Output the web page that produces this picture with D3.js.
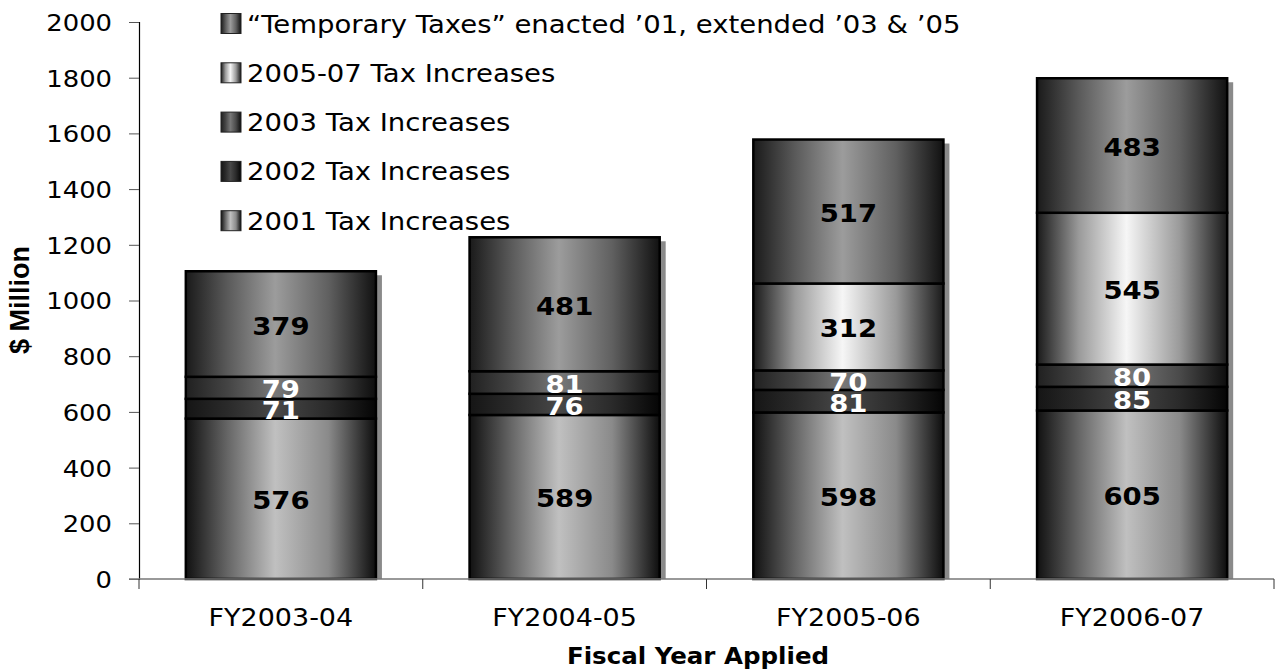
<!DOCTYPE html>
<html>
<head>
<meta charset="utf-8">
<script src="https://cdn.jsdelivr.net/npm/d3@7"></script>
<style>
  body { margin: 0; background: #fff; }
  svg { display: block; }
  text { font-family: "DejaVu Sans", Verdana, sans-serif; }
</style>
</head>
<body>
<div id="chart"></div>
<script>
const width = 1280;
const height = 671;

// data
const years = ['FY2003-04', 'FY2004-05', 'FY2005-06', 'FY2006-07'];
const series = ['2001 Tax Increases', '2002 Tax Increases', '2003 Tax Increases',
  '2005-07 Tax Increases', '\u201CTemporary Taxes\u201D enacted \u201901, extended \u201903 & \u201905'];
const tax2001 = [576, 589, 598, 605];
const tax2002 = [71, 76, 81, 85];
const tax2003 = [79, 81, 70, 80];
const tax2005 = [0, 0, 312, 545];
const temporary = [379, 481, 517, 483];
const yTicks = [0, 200, 400, 600, 800, 1000, 1200, 1400, 1600, 1800, 2000];

// shading of each series: [edge, mid, peak, mid, edge]
const shades = [
  ['#111', '#666', '#c0c0c0', '#8a8a8a', '#0d0d0d'],
  ['#151515', '#2a2a2a', '#484848', '#2a2a2a', '#050505'],
  ['#202020', '#444', '#787878', '#4a4a4a', '#0d0d0d'],
  ['#1a1a1a', '#9a9a9a', '#f6f6f6', '#9a9a9a', '#1a1a1a'],
  ['#1a1a1a', '#5a5a5a', '#9c9c9c', '#606060', '#111']
];
const labelColors = ['#000', '#fff', '#fff', '#000', '#000'];

// the picture's text is a little wider than the font, so stretch it
const sx = 1.1;
const place = (x, y) => `translate(${x},${y}) scale(${sx},1)`;

const rows = years.map((y, i) => ({
  year: y,
  s0: tax2001[i], s1: tax2002[i], s2: tax2003[i], s3: tax2005[i], s4: temporary[i]
}));
const keys = ['s0', 's1', 's2', 's3', 's4'];

const margin = { top: 22, right: 6, bottom: 92, left: 139 };

const svg = d3.select('#chart')
  .append('svg')
  .attr('width', width)
  .attr('height', height);

const defs = svg.append('defs');
shades.forEach((s, i) => {
  const g = defs.append('linearGradient')
    .attr('id', 'grad' + i)
    .attr('x1', '0').attr('x2', '1').attr('y1', '0').attr('y2', '0');
  [0, 0.22, 0.47, 0.75, 1].forEach((o, j) => {
    g.append('stop').attr('offset', o).attr('stop-color', s[j]);
  });
});

const xScale = d3.scaleBand()
  .domain(years)
  .range([margin.left, width - margin.right])
  .paddingInner(0.33)
  .paddingOuter(0.165);

const yScale = d3.scaleLinear()
  .domain([0, 2000])
  .range([height - margin.bottom, margin.top]);

const stacked = d3.stack().keys(keys)(rows);
const total = d => d3.sum(keys, k => d[k]);

// shadows behind bars
svg.append('g')
  .selectAll('rect')
  .data(rows)
  .join('rect')
  .attr('x', d => xScale(d.year) + 6)
  .attr('y', d => yScale(total(d)) + 4)
  .attr('width', xScale.bandwidth())
  .attr('height', d => yScale(0) - yScale(total(d)) - 4)
  .attr('fill', '#8a8a8a');

// stacked segments
const layers = svg.append('g')
  .selectAll('g')
  .data(stacked)
  .join('g');

const segs = d => d.filter(p => p[1] - p[0] > 0).map(p => ({ p, idx: d.index }));

layers.selectAll('rect')
  .data(segs)
  .join('rect')
  .attr('x', d => xScale(d.p.data.year))
  .attr('y', d => yScale(d.p[1]))
  .attr('width', xScale.bandwidth())
  .attr('height', d => yScale(d.p[0]) - yScale(d.p[1]))
  .attr('fill', d => `url(#grad${d.idx})`)
  .attr('stroke', '#000')
  .attr('stroke-width', 2.5);

// value labels
layers.selectAll('text')
  .data(segs)
  .join('text')
  .attr('transform', d => place(
    xScale(d.p.data.year) + xScale.bandwidth() / 2,
    (yScale(d.p[0]) + yScale(d.p[1])) / 2 + 1.5))
  .attr('dy', '0.36em')
  .attr('text-anchor', 'middle')
  .attr('font-size', 25)
  .attr('font-weight', 'bold')
  .attr('fill', d => labelColors[d.idx])
  .text(d => d.p[1] - d.p[0]);

// y axis
const yAxis = svg.append('g')
  .attr('transform', `translate(${margin.left},0)`)
  .call(d3.axisLeft(yScale).tickValues(yTicks).tickSize(10).tickFormat(d3.format('d')));
yAxis.select('.domain').attr('stroke', '#000').attr('stroke-width', 1.2);
yAxis.selectAll('.tick line').attr('stroke', '#555');
yAxis.selectAll('.tick text')
  .attr('x', 0)
  .attr('transform', place(-27, 0))
  .attr('dy', '0.36em')
  .attr('font-family', '"DejaVu Sans", Verdana, sans-serif')
  .attr('font-size', 23.5)
  .attr('fill', '#000');

// x axis: line plus ticks at band edges
const step = xScale.step();
const edges = years.map(y => xScale(y) - step * xScale.paddingInner() / 2)
  .concat([width - margin.right]);
const xAxis = svg.append('g');
xAxis.append('line')
  .attr('x1', margin.left - 10)
  .attr('x2', width - margin.right)
  .attr('y1', yScale(0)).attr('y2', yScale(0))
  .attr('stroke', '#777').attr('stroke-width', 1.5);
xAxis.selectAll('line.tk')
  .data(edges)
  .join('line')
  .attr('class', 'tk')
  .attr('x1', d => d).attr('x2', d => d)
  .attr('y1', yScale(0)).attr('y2', yScale(0) + 10)
  .attr('stroke', '#333');
xAxis.selectAll('text')
  .data(years)
  .join('text')
  .attr('transform', d => place(xScale(d) + xScale.bandwidth() / 2, 626))
  .attr('text-anchor', 'middle')
  .attr('font-size', 24.5)
  .text(d => d);

// axis titles
svg.append('text')
  .attr('transform', place(698, 664))
  .attr('text-anchor', 'middle')
  .attr('font-size', 22.3)
  .attr('font-weight', 'bold')
  .text('Fiscal Year Applied');

svg.append('text')
  .attr('transform', `translate(29,300) rotate(-90)`)
  .attr('text-anchor', 'middle')
  .style('font-family', '"Liberation Sans", Arial, sans-serif')
  .attr('font-size', 27)
  .attr('font-weight', 'bold')
  .text('$ Million');

// legend, top entry first
const legendOrder = [4, 3, 2, 1, 0];
const legend = svg.append('g')
  .selectAll('g')
  .data(legendOrder)
  .join('g')
  .attr('transform', (d, i) => `translate(221,${23.5 + i * 49.3})`);
legend.append('rect')
  .attr('x', 0).attr('y', -10)
  .attr('width', 20).attr('height', 20)
  .attr('fill', d => `url(#grad${d})`)
  .attr('stroke', '#222').attr('stroke-width', 1);
legend.append('text')
  .attr('transform', place(26, 0))
  .attr('dy', '0.36em')
  .attr('font-size', 25)
  .text(d => series[d]);
</script>
</body>
</html>
